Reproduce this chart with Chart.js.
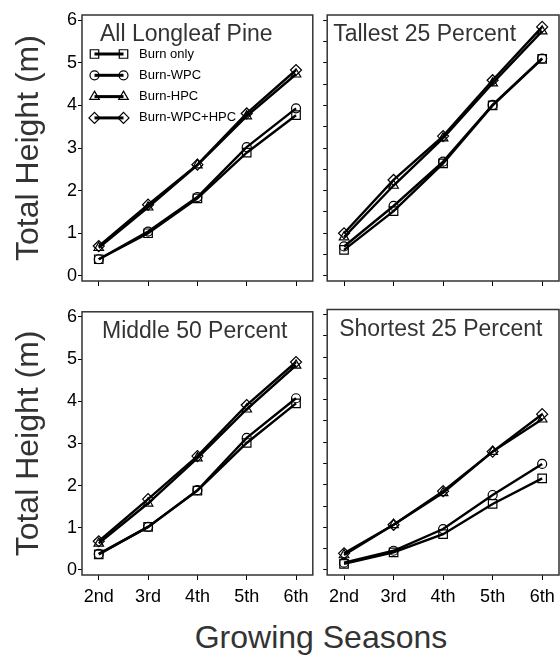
<!DOCTYPE html>
<html>
<head>
<meta charset="utf-8">
<script src="https://cdn.jsdelivr.net/npm/chart.js@4/dist/chart.umd.min.js"></script>
<style>
  body { margin: 0; width: 560px; height: 655px; position: relative; overflow: hidden; background: #fff;
         font-family: "Liberation Sans", Arial, sans-serif; }
  canvas { position: absolute; }
  #tl { left: 0; top: 0; }
  #tr { left: 320px; top: 0; }
  #bl { left: 0; top: 300px; }
  #br { left: 320px; top: 300px; }
  #xTitle { position: absolute; left: 0; width: 642px; top: 619px; line-height: 37px;
            text-align: center; font-size: 32px; color: #333; }
</style>
</head>
<body>
<canvas id="tl" width="320" height="300"></canvas>
<canvas id="tr" width="250" height="300"></canvas>
<canvas id="bl" width="320" height="310"></canvas>
<canvas id="br" width="250" height="310"></canvas>
<div id="xTitle">Growing Seasons</div>
<script>
const seasons = ['2nd', '3rd', '4th', '5th', '6th'];
const treatments = ['Burn only', 'Burn-WPC', 'Burn-HPC', 'Burn-WPC+HPC'];
const yTicks = [0, 0.5, 1, 1.5, 2, 2.5, 3, 3.5, 4, 4.5, 5, 5.5, 6];

// total height (m) by growing season
const allBurn = [0.39, 1.00, 1.82, 2.89, 3.77];
const allWPC  = [0.39, 1.04, 1.85, 3.02, 3.93];
const allHPC  = [0.66, 1.61, 2.60, 3.75, 4.73];
const allBoth = [0.70, 1.67, 2.61, 3.81, 4.83];

const tallBurn = [0.61, 1.52, 2.64, 4.00, 5.09];
const tallWPC  = [0.69, 1.64, 2.68, 4.01, 5.10];
const tallHPC  = [0.91, 2.12, 3.23, 4.52, 5.74];
const tallBoth = [1.00, 2.25, 3.28, 4.59, 5.84];

const midBurn = [0.37, 1.02, 1.88, 3.01, 3.95];
const midWPC  = [0.38, 1.02, 1.89, 3.13, 4.07];
const midHPC  = [0.63, 1.58, 2.65, 3.81, 4.85];
const midBoth = [0.68, 1.68, 2.70, 3.91, 4.93];

const shortBurn = [0.14, 0.41, 0.84, 1.55, 2.15];
const shortWPC  = [0.17, 0.45, 0.96, 1.76, 2.49];
const shortHPC  = [0.35, 1.06, 1.81, 2.78, 3.54];
const shortBoth = [0.39, 1.06, 1.85, 2.78, 3.66];

const markers = [
  {style: 'rect', radius: 6},
  {style: 'circle', radius: 4.5},
  {style: 'triangle', radius: 5.5},
  {style: 'rectRot', radius: 5.5}
];

Chart.defaults.font.family = '"Liberation Sans", Arial, sans-serif';
Chart.defaults.color = '#000';

// box around the plot area
const frame = {
  id: 'frame',
  afterDraw(chart) {
    const {ctx, chartArea: a} = chart;
    ctx.save();
    ctx.strokeStyle = '#333';
    ctx.lineWidth = 1.5;
    ctx.strokeRect(a.left, a.top, a.right - a.left, a.bottom - a.top);
    ctx.restore();
  }
};

// subset name written inside the box
const panelTitle = {
  id: 'panelTitle',
  afterDraw(chart, args, opts) {
    const {ctx, chartArea: a} = chart;
    ctx.save();
    ctx.font = '23px "Liberation Sans", Arial, sans-serif';
    ctx.fillStyle = '#333';
    ctx.textBaseline = 'alphabetic';
    ctx.fillText(opts.text, a.left + opts.dx, a.top + 26);
    ctx.restore();
  }
};

// legend entries as marker - line - marker
const pairLegend = {
  id: 'pairLegend',
  afterDraw(chart, args, opts) {
    if (!opts.show) return;
    const {ctx, chartArea: a} = chart;
    ctx.save();
    chart.data.datasets.forEach((ds, i) => {
      const y = a.top + 39 + i * 21.3;
      const x0 = a.left + 12.5, x1 = a.left + 41.5;
      ctx.strokeStyle = '#000';
      ctx.lineWidth = 3;
      ctx.beginPath();
      ctx.moveTo(x0, y);
      ctx.lineTo(x1, y);
      ctx.stroke();
      ctx.fillStyle = 'rgba(0,0,0,0)';
      ctx.lineWidth = 1.2;
      const pt = {pointStyle: ds.pointStyle, radius: ds.pointRadius, borderWidth: 1.2, rotation: 0};
      Chart.helpers.drawPoint(ctx, pt, x0, y);
      Chart.helpers.drawPoint(ctx, pt, x1, y);
      ctx.fillStyle = '#000';
      ctx.font = '13px "Liberation Sans", Arial, sans-serif';
      ctx.textBaseline = 'middle';
      ctx.fillText(ds.label, a.left + 57, y);
    });
    ctx.restore();
  }
};

function makePanel(id, title, titleDx, series, o) {
  const datasets = series.map((vals, i) => ({
    label: treatments[i],
    data: vals.map((v, k) => ({x: k, y: v})),
    borderColor: '#000',
    borderWidth: 2.4,
    pointStyle: markers[i].style,
    pointRadius: markers[i].radius,
    pointBorderWidth: 1.2,
    pointBorderColor: '#000',
    pointBackgroundColor: 'rgba(0,0,0,0)',
    tension: 0
  }));
  return new Chart(document.getElementById(id), {
    type: 'line',
    data: {datasets: datasets},
    plugins: [frame, panelTitle, pairLegend],
    options: {
      responsive: false,
      animation: false,
      layout: {padding: o.padding},
      plugins: {
        legend: {display: false},
        tooltip: {enabled: false},
        panelTitle: {text: title, dx: titleDx},
        pairLegend: {show: !!o.legend}
      },
      scales: {
        x: {
          type: 'linear',
          min: -0.34,
          max: 4.34,
          afterBuildTicks: axis => { axis.ticks = seasons.map((s, k) => ({value: k})); },
          afterFit: axis => { axis.height = o.xHeight; },
          border: {display: false},
          grid: {drawOnChartArea: false, tickLength: 5, color: '#000'},
          ticks: {
            display: o.xLabels,
            padding: 6,
            font: {size: 18},
            callback: v => seasons[v]
          }
        },
        y: {
          min: -0.12,
          max: 6.12,
          afterBuildTicks: axis => { axis.ticks = yTicks.map(v => ({value: v})); },
          afterFit: axis => { axis.width = o.yWidth; },
          border: {display: false},
          grid: {drawOnChartArea: false, tickLength: 4, color: '#000'},
          ticks: {
            display: o.yLabels,
            padding: 1,
            font: {size: 18},
            callback: v => (Number.isInteger(v) ? String(v) : '')
          },
          title: {
            display: o.yLabels,
            text: 'Total Height (m)',
            color: '#333',
            font: {size: 32},
            padding: {top: 10}
          }
        }
      }
    }
  });
}

makePanel('tl', 'All Longleaf Pine', 18, [allBurn, allWPC, allHPC, allBoth],
  {padding: {top: 15, right: 5, left: 0, bottom: 0}, xHeight: 19, yWidth: 82, xLabels: false, yLabels: true, legend: true});
makePanel('tr', 'Tallest 25 Percent', 6, [tallBurn, tallWPC, tallHPC, tallBoth],
  {padding: {top: 15, right: 11, left: 0, bottom: 0}, xHeight: 19, yWidth: 7, xLabels: false, yLabels: false});
makePanel('bl', 'Middle 50 Percent', 20, [midBurn, midWPC, midHPC, midBoth],
  {padding: {top: 9.5, right: 5, left: 0, bottom: 0}, xHeight: 35, yWidth: 82, xLabels: true, yLabels: true});
makePanel('br', 'Shortest 25 Percent', 12, [shortBurn, shortWPC, shortHPC, shortBoth],
  {padding: {top: 9.5, right: 11, left: 0, bottom: 0}, xHeight: 35, yWidth: 7, xLabels: true, yLabels: false});
</script>
</body>
</html>
